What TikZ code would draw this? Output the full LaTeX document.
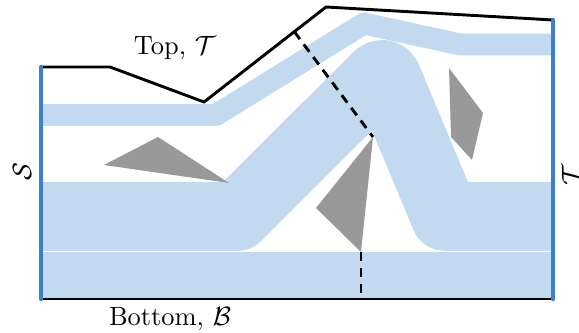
\documentclass[tikz,border=0pt]{standalone}
\usepackage{amsmath,amssymb}
\usepackage{tikz}
\usetikzlibrary{calc}
\usepackage{xcolor}
\definecolor{BandBlue}{HTML}{C3D9EF}
\definecolor{SideBlue}{HTML}{3A82CE}
\definecolor{ObstacleGray}{HTML}{999999}

\begin{document}
\begin{tikzpicture}[
    x=0.0133cm, y=-0.0133cm,
    band/.style={draw=BandBlue, line join=round, line cap=butt},
    obstacle/.style={fill=ObstacleGray, draw=none},
    boundary/.style={draw=black, line width=1.1pt, line join=miter},
    side/.style={draw=SideBlue, line width=1.7pt, line cap=round},
    cut/.style={draw=black, line width=1.1pt, dashed, dash pattern=on 3.5pt off 2.5pt},
    lbl/.style={font=\normalsize, inner sep=1pt}
  ]
    \useasboundingbox (0,0) rectangle (579,333);

    % corner points of the domain
    \coordinate (bl) at (41,299);
    \coordinate (br) at (553,299);
    \coordinate (tl) at (41,67);
    \coordinate (tr) at (553,20);
    \coordinate (t1) at (110,67);
    \coordinate (t2) at (204,102);
    \coordinate (t3) at (326,7);

    % flow bands
    \fill[BandBlue] (41,252.5) rectangle (553,299);
    \draw[band, line width=26pt] (41,216.5) -- (237,216.5)
      [rounded corners=3.5pt] -- (384,70) [sharp corners] -- (445,216.5) -- (553,216.5);
    \draw[band, line width=8.3pt] (41,115) -- (216,115) -- (364,23.5) -- (460,44.5) -- (553,44.5);

    % obstacles
    \fill[obstacle] (104,165) -- (158,137) -- (229,183) -- cycle;
    \coordinate (p1) at (373,137);
    \coordinate (p2) at (361,252);
    \fill[obstacle] (p1) -- (316,208) -- (p2) -- cycle;
    \fill[obstacle] (449,68) -- (483,113) -- (472,160) -- (451,137) -- cycle;

    % cuts
    \coordinate (c1) at ($(t2)!0.74!(t3)$);
    \coordinate (c2) at (p2 |- bl);
    \draw[cut] (c1) -- (p1);
    \draw[cut] (p2) -- (c2);

    % boundary
    \draw[boundary] (tl) -- (t1) -- (t2) -- (t3) -- (tr);
    \draw[boundary] (bl) -- (br);
    \draw[side] (bl) -- (tl);
    \draw[side] (br) -- (tr);

    \node[lbl] (top) at (175,48) {Top, $\mathcal{T}$};
    \node[lbl] (bot) at (170,319) {Bottom, $\mathcal{B}$};
    \node[lbl, rotate=90] (src) at (22,172) {$\mathcal{S}$};
    \node[lbl, rotate=90] (tgt) at (571,175) {$\mathcal{T}$};
  \end{tikzpicture}
\end{document}
